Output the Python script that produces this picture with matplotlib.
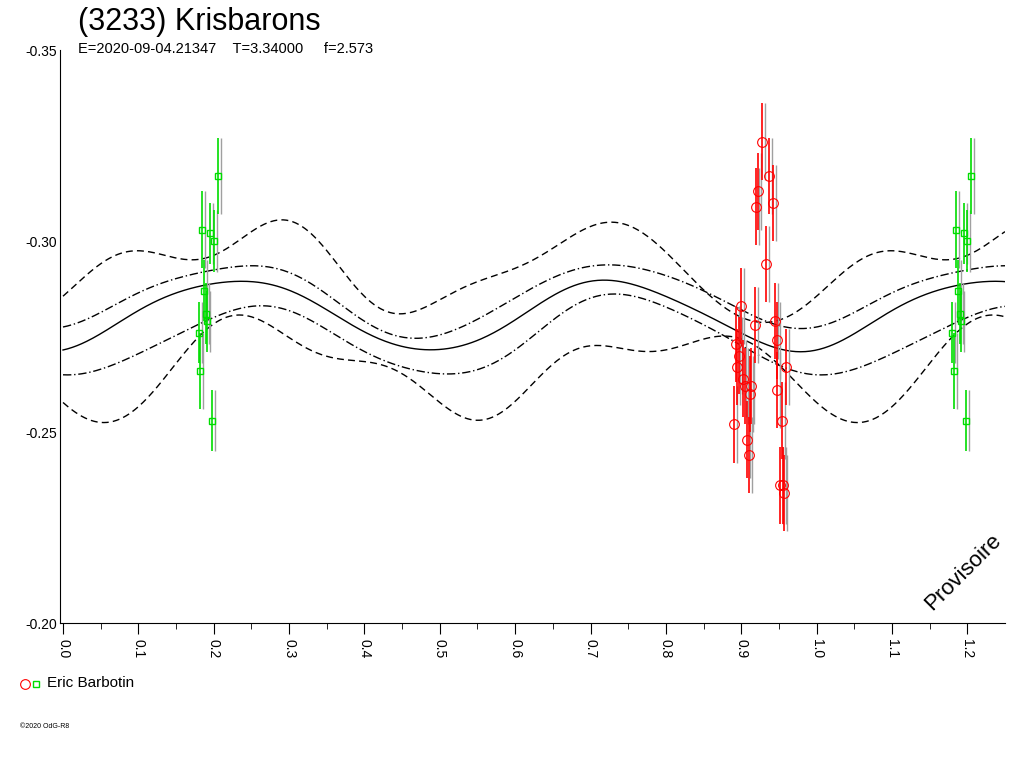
import numpy as np
import matplotlib
matplotlib.use("Agg")
import matplotlib.pyplot as plt

plt.rcParams["font.family"] = ["Liberation Sans", "DejaVu Sans"]

# curves read at phase 0.00, 0.05, ... 0.95 (periodic)
solid = [-0.271, -0.276, -0.282, -0.286, -0.289, -0.2895, -0.287, -0.282, -0.276, -0.273,
         -0.271, -0.274, -0.280, -0.285, -0.2895, -0.2895, -0.285, -0.281, -0.276, -0.272]
dash_hi = [-0.286, -0.294, -0.297, -0.296, -0.296, -0.303, -0.304, -0.299, -0.285, -0.280,
           -0.286, -0.289, -0.292, -0.299, -0.304, -0.303, -0.298, -0.287, -0.280, -0.279]
dash_lo = [-0.256, -0.254, -0.257, -0.266, -0.280, -0.280, -0.274, -0.270, -0.269, -0.265,
           -0.257, -0.254, -0.258, -0.267, -0.273, -0.272, -0.271, -0.274, -0.275, -0.268]
dd_hi = [-0.277, -0.282, -0.286, -0.290, -0.293, -0.293, -0.292, -0.286, -0.279, -0.275,
         -0.275, -0.280, -0.285, -0.290, -0.294, -0.293, -0.291, -0.287, -0.282, -0.278]
dd_lo = [-0.265, -0.267, -0.270, -0.275, -0.281, -0.282, -0.282, -0.277, -0.271, -0.267,
         -0.265, -0.267, -0.271, -0.279, -0.286, -0.285, -0.283, -0.278, -0.273, -0.267]

green_phase = [0.180, 0.182, 0.185, 0.187, 0.190, 0.191, 0.195, 0.198, 0.200, 0.205]
green_mag = [-0.276, -0.266, -0.303, -0.287, -0.281, -0.279, -0.302, -0.253, -0.300, -0.317]
green_err = [0.008, 0.010, 0.010, 0.008, 0.008, 0.008, 0.008, 0.008, 0.008, 0.010]

red_phase = [0.890, 0.893, 0.895, 0.897, 0.900, 0.902, 0.905, 0.907, 0.910, 0.912, 0.913,
             0.918, 0.920, 0.922, 0.927, 0.933, 0.937, 0.942, 0.945, 0.947, 0.948, 0.951,
             0.954, 0.955, 0.957, 0.960]
red_mag = [-0.252, -0.273, -0.267, -0.270, -0.283, -0.264, -0.262, -0.248, -0.244, -0.260,
           -0.262, -0.278, -0.309, -0.313, -0.326, -0.294, -0.317, -0.310, -0.279, -0.274,
           -0.261, -0.236, -0.253, -0.236, -0.234, -0.267]
red_err = [0.010] * len(red_mag)


def smooth(vals, x, nh=5):
    c = np.fft.rfft(vals) / len(vals)
    y = np.full_like(x, c[0].real)
    for k in range(1, nh + 1):
        y += 2 * (c[k].real * np.cos(2 * np.pi * k * x) - c[k].imag * np.sin(2 * np.pi * k * x))
    return y


fig = plt.figure(figsize=(10.24, 7.68), dpi=100)
ax = fig.add_axes([60 / 1024, 1 - 623 / 768, 945 / 1024, 573 / 768])
x = np.linspace(0, 1.25, 600)
ax.plot(x, smooth(solid, x), color="black", lw=1)
for c in (dash_hi, dash_lo):
    ax.plot(x, smooth(c, x), color="black", lw=1, ls=(0, (5, 3)))
for c in (dd_hi, dd_lo):
    ax.plot(x, smooth(c, x), color="black", lw=1, ls=(0, (6, 2, 1, 2)))

for off in (0.0, 1.0):
    gp = np.array(green_phase) + off
    ax.errorbar(gp + 0.004, green_mag, yerr=green_err, fmt="none", ecolor="#a0a0a0", lw=1)
    ax.errorbar(gp, green_mag, yerr=green_err, fmt="s", mfc="none", mec="#00dd00",
                ecolor="#00dd00", ms=5, lw=1.2, mew=1)
ax.errorbar(np.array(red_phase) + 0.004, red_mag, yerr=red_err, fmt="none", ecolor="#a0a0a0", lw=1)
ax.errorbar(red_phase, red_mag, yerr=red_err, fmt="o", mfc="none", mec="red",
            ecolor="red", ms=7, lw=1.2, mew=0.8)

ax.set_xlim(-0.004, 1.25)
ax.set_ylim(-0.20, -0.35)
ax.set_yticks([-0.35, -0.30, -0.25, -0.20])
ax.set_yticklabels(["-0.35", "-0.30", "-0.25", "-0.20"])
ax.set_xticks(np.arange(0, 1.21, 0.1))
ax.set_xticklabels([f"{v:.1f}" for v in np.arange(0, 1.21, 0.1)], rotation=-90)
ax.set_xticks(np.arange(0.05, 1.25, 0.1), minor=True)
for s in ("top", "right"):
    ax.spines[s].set_visible(False)
ax.tick_params(axis="both", labelsize=10, direction="out", length=8)
ax.tick_params(axis="x", which="minor", length=4)
ax.tick_params(axis="y", length=0, pad=2)

fig.text(78 / 1024, 1 - 22 / 768, "(3233) Krisbarons", fontsize=22, va="center")
fig.text(78 / 1024, 1 - 49 / 768, "E=2020-09-04.21347    T=3.34000     f=2.573", fontsize=10.5, va="center")
ax.text(1.0, 0.015, "Provisoire", transform=ax.transAxes, rotation=45, fontsize=16,
        ha="right", va="bottom")
fig.text(47 / 1024, 1 - 683 / 768, "Eric Barbotin", fontsize=11, va="center")
fig.text(20 / 1024, 1 - 726 / 768, "\u00a92020 OdG-R8", fontsize=5, va="center")
# legend markers in figure coordinates
fig.add_artist(plt.Line2D([25 / 1024], [1 - 684 / 768], marker="o", mfc="none", mec="red",
                          ms=7, mew=0.8, ls="none"))
fig.add_artist(plt.Line2D([36 / 1024], [1 - 684 / 768], marker="s", mfc="none", mec="#00dd00",
                          ms=5, mew=1, ls="none"))
fig.savefig("out.png", dpi=100)
